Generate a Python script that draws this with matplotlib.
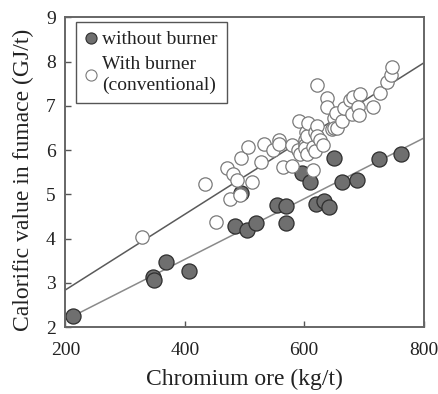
import numpy as np
import matplotlib
matplotlib.use('Agg')
import matplotlib.pyplot as plt
from matplotlib.lines import Line2D

plt.rcParams['font.family'] = ['Liberation Serif', 'DejaVu Serif']

# without burner (dark points)
dark_x = [213, 347, 349, 368, 407, 484, 494, 504, 519, 554, 569, 569, 597,
          610, 619, 634, 642, 650, 664, 689, 725, 762]
dark_y = [2.25, 3.12, 3.06, 3.48, 3.27, 4.28, 5.03, 4.19, 4.35, 4.76, 4.74,
          4.35, 5.49, 5.27, 4.78, 4.86, 4.72, 5.82, 5.27, 5.32, 5.80, 5.91]

# with burner (open points)
open_x = [329, 433, 452, 471, 476, 480, 487, 492, 494, 506, 513, 528, 533,
          548, 557, 558, 564, 580, 580, 590, 592, 593, 601, 601, 601, 603,
          604, 604, 607, 614, 615, 618, 618, 621, 621, 622, 626, 632, 639,
          639, 646, 650, 650, 653, 655, 663, 667, 677, 680, 681, 694, 691,
          692, 716, 727, 739, 746, 747]
open_y = [4.04, 5.23, 4.38, 5.60, 4.90, 5.47, 5.33, 4.99, 5.83, 6.06, 5.29,
          5.74, 6.14, 6.00, 6.23, 6.14, 5.61, 5.65, 6.12, 6.00, 6.67, 5.91,
          6.23, 6.12, 6.04, 6.42, 6.32, 5.91, 6.61, 5.54, 6.08, 6.42, 5.97,
          6.55, 7.48, 6.31, 6.23, 6.12, 7.17, 6.97, 6.47, 6.72, 6.50, 6.83,
          6.51, 6.66, 6.95, 7.14, 6.82, 7.21, 7.27, 6.98, 6.80, 6.98, 7.29,
          7.53, 7.70, 7.89]

# fitted lines (end points)
fit_dark_x = [213, 800]
fit_dark_y = [2.25, 6.27]
fit_open_x = [200, 800]
fit_open_y = [2.84, 7.97]

fig = plt.figure(figsize=(4.38, 3.94), dpi=100)
ax = fig.add_axes([0.1495, 0.170, 0.8175, 0.7856])

ax.plot(fit_open_x, fit_open_y, color='#5a5a5a', lw=1.1, zorder=1)
ax.plot(fit_dark_x, fit_dark_y, color='#8a8a8a', lw=1.1, zorder=1)

ax.scatter(dark_x, dark_y, s=118, facecolor='#6f6f6f', edgecolor='#2e2e2e',
           linewidth=0.9, zorder=2)
ax.scatter(open_x, open_y, s=92, facecolor='white', edgecolor='#7a7a7a',
           linewidth=0.9, zorder=3)

ax.set_xlim(200, 800)
ax.set_ylim(2, 9)
ax.set_xticks([200, 400, 600, 800])
ax.set_yticks(range(2, 10))
ax.tick_params(direction='in', length=4, width=1, color='#555555',
               labelsize=14, labelcolor='#222222')
ax.tick_params(axis='x', pad=11)
ax.tick_params(axis='y', pad=7)
for sp in ax.spines.values():
    sp.set_color('#666666')
    sp.set_linewidth(1.4)

ax.set_xlabel('Chromium ore (kg/t)', fontsize=17, labelpad=7, color='#222222')
ax.set_ylabel('Calorific value in fumace (GJ/t)', fontsize=17, labelpad=1,
              color='#222222')
ax.yaxis.set_label_coords(-0.087, 0.475)

handles = [
    Line2D([], [], ls='none', marker='o', ms=8, mfc='#6f6f6f', mec='#2e2e2e', mew=0.8),
    Line2D([], [], ls='none', marker='o', ms=8, mfc='white', mec='#7a7a7a', mew=0.8),
]
leg = ax.legend(handles, ['without burner', 'With burner\n(conventional)'],
                loc='upper left', bbox_to_anchor=(0.03, 0.985), fontsize=14,
                fancybox=False, framealpha=1, edgecolor='#555555',
                handlelength=0.6, handletextpad=0.3, borderpad=0.45,
                labelspacing=0.4, borderaxespad=0.0)
for t in leg.get_texts():
    t.set_color('#222222')
    t.set_linespacing(1.25)
leg.get_frame().set_linewidth(1.0)

fig.savefig('out.png', dpi=100)
